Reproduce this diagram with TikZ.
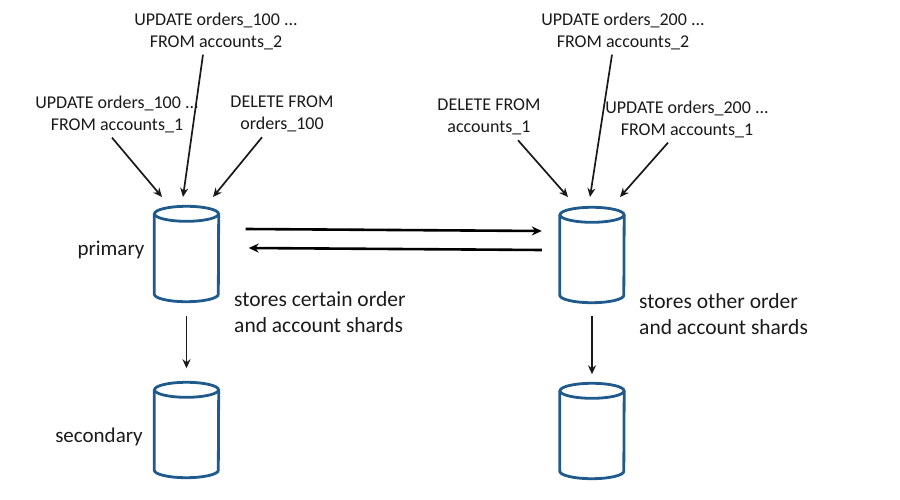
\documentclass[tikz,border=0pt]{standalone}
\usepackage{fontspec}
\setmainfont{Carlito}
\usetikzlibrary{arrows.meta}
\definecolor{cylblue}{HTML}{1F5A8C}
\definecolor{txt}{HTML}{1A1A1A}
\tikzset{
  lbl/.style={align=center, text=txt, font=\fontsize{18}{22}\selectfont, inner sep=0pt},
  desc/.style={align=left, anchor=west, text=txt, font=\fontsize{21.5}{25.5}\selectfont, inner sep=0pt},
  dbbox/.style={minimum width=64pt, minimum height=95pt, inner sep=0pt},
  cyl/.style={draw=cylblue, line width=2.8pt},
  arr/.style={draw=black!90, line width=1.7pt, -{Stealth[length=9pt,width=8pt]}},
  harr/.style={draw=black, line width=2.6pt, -{Stealth[length=10pt,width=9pt]}}
}
\newcommand{\drawcyl}[1]{%
  \draw[cyl] ([yshift=-7.5pt]#1.north west) -- ([yshift=7.5pt]#1.south west)
    arc[start angle=180,end angle=360,x radius=32pt,y radius=7.5pt]
    -- ([yshift=-7.5pt]#1.north east);
  \draw[cyl] ([yshift=-7.5pt]#1.north) ellipse[x radius=32pt,y radius=7.5pt];
}
\begin{document}
\begin{tikzpicture}[x=1pt,y=-1pt]
\useasboundingbox (0,0) rectangle (900,500);

% cylinders
\node[dbbox] (p1) at (186.5,254) {};
\node[dbbox] (s1) at (186.5,430) {};
\node[dbbox] (p2) at (592,255) {};
\node[dbbox] (s2) at (592,431) {};
\drawcyl{p1}
\drawcyl{s1}
\drawcyl{p2}
\drawcyl{s2}

% side labels
\node[text=txt, font=\fontsize{21}{25}\selectfont, inner sep=0pt] (prim) at (111,250) {primary};
\node[text=txt, font=\fontsize{21}{25}\selectfont, inner sep=0pt] (sec) at (99,437) {secondary};
\node[desc] (d1) at (234,312) {stores certain order\\and account shards};
\node[desc] (d2) at (639,314) {stores other order\\and account shards};

% query labels left
\node[lbl] (la2) at (216,31) {UPDATE orders\_100 ...\\FROM accounts\_2};
\node[lbl] (la1) at (117,114) {UPDATE orders\_100 ...\\FROM accounts\_1};
\node[lbl] (ld)  at (282,114) {DELETE FROM\\orders\_100};
% query labels right
\node[lbl] (ra2) at (623,31) {UPDATE orders\_200 ...\\FROM accounts\_2};
\node[lbl] (rd)  at (489,117) {DELETE FROM\\accounts\_1};
\node[lbl] (ra1) at (687,119) {UPDATE orders\_200 ...\\FROM accounts\_1};

% arrow tips
\coordinate (ta1) at (162,197);
\coordinate (ta2) at (183,197);
\coordinate (td)  at (213,197);
\coordinate (tb1) at (568,197);
\coordinate (tb2) at (590,197);
\coordinate (tb3) at (620,197);

\draw[arr] ([shift={(-5pt,-5pt)}]la1.south) -- (ta1);
\draw[arr] ([shift={(-13pt,-5pt)}]la2.south) -- (ta2);
\draw[arr] ([shift={(-20pt,-5pt)}]ld.south) -- (td);
\draw[arr] ([shift={(29pt,-5pt)}]rd.south) -- (tb1);
\draw[arr] ([shift={(-11pt,-5pt)}]ra2.south) -- (tb2);
\draw[arr] ([shift={(-19pt,-5pt)}]ra1.south) -- (tb3);

% replication arrows
\draw[harr] ([shift={(27pt,25pt)}]p1.east) -- ([shift={(-18pt,24pt)}]p2.west);
\draw[harr] ([shift={(-18pt,5pt)}]p2.west) -- ([shift={(30pt,6pt)}]p1.east);

% primary -> secondary
\draw[arr] ([yshift=-14pt]p1.south) -- ([yshift=14pt]s1.north);
\draw[arr] ([yshift=-13pt]p2.south) -- ([yshift=9pt]s2.north);
\end{tikzpicture}
\end{document}
